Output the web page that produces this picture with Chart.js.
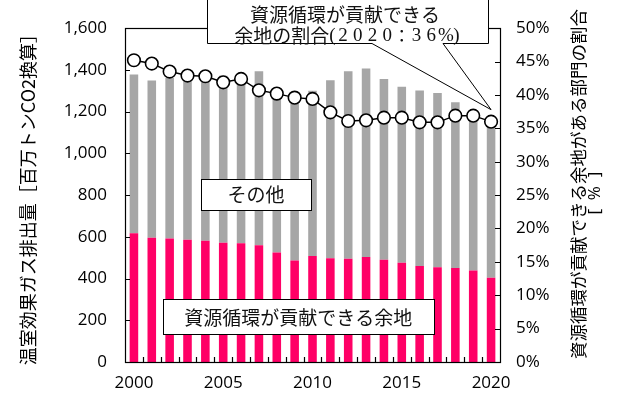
<!DOCTYPE html>
<html>
<head>
<meta charset="utf-8">
<script src="https://cdn.jsdelivr.net/npm/chart.js@4.4.0/dist/chart.umd.min.js"></script>
<style>
  html, body { margin: 0; padding: 0; background: #ffffff; }
  #wrap { width: 633px; height: 399px; }
</style>
</head>
<body>
<div id="wrap"><canvas id="c" width="633" height="399"></canvas></div>
<script>
// 年次
const years = [2000, 2001, 2002, 2003, 2004, 2005, 2006, 2007, 2008, 2009, 2010,
               2011, 2012, 2013, 2014, 2015, 2016, 2017, 2018, 2019, 2020];

// 温室効果ガス排出量 [百万トンCO2換算]：資源循環が貢献できる余地
const contributable = [617, 596, 592, 586, 581, 572, 569, 560, 525, 487, 508,
                       497, 495, 503, 490, 476, 460, 454, 450, 439, 404];

// 温室効果ガス排出量 [百万トンCO2換算]：その他
const others = [761, 753, 770, 776, 777, 800, 769, 834, 780, 753, 792,
                854, 899, 904, 866, 843, 841, 835, 795, 769, 726];

// 資源循環が貢献できる余地がある部門の割合 [%]
const shareRate = [45.2, 44.7, 43.5, 42.9, 42.8, 41.9, 42.4, 40.7, 40.2, 39.6, 39.4,
                   37.4, 36.1, 36.2, 36.6, 36.6, 35.9, 35.9, 36.9, 36.9, 36.0];

// 軸の目盛り
const emissionTicks = [0, 200, 400, 600, 800, 1000, 1200, 1400, 1600];
const rateTicks = [0, 5, 10, 15, 20, 25, 30, 35, 40, 45, 50];
const labeledYears = [2000, 2005, 2010, 2015, 2020];

const CJK = '"Noto Sans CJK JP", "Noto Sans", sans-serif';
const NUM = '"Open Sans", "Liberation Sans", sans-serif';

// 枠線・内向き目盛り・軸タイトル・注記ボックス
const decor = {
  id: 'decor',
  afterDraw(chart) {
    const ctx = chart.ctx;
    const a = chart.chartArea;
    const xs = chart.scales.x, ys = chart.scales.y, ys2 = chart.scales.y2;
    ctx.save();
    ctx.strokeStyle = '#000';
    ctx.lineWidth = 1.2;

    // plot frame
    ctx.strokeRect(Math.round(a.left) + 0.5, Math.round(a.top) + 0.5,
                   Math.round(a.right - a.left), Math.round(a.bottom - a.top));

    // inward tick marks
    ctx.beginPath();
    ys.ticks.forEach((t, i) => {
      const y = Math.round(ys.getPixelForTick(i)) + 0.5;
      ctx.moveTo(a.left, y); ctx.lineTo(a.left + 5, y);
    });
    ys2.ticks.forEach((t, i) => {
      const y = Math.round(ys2.getPixelForTick(i)) + 0.5;
      ctx.moveTo(a.right, y); ctx.lineTo(a.right - 5, y);
    });
    for (let i = 1; i < years.length; i++) {
      const x = Math.round((xs.getPixelForValue(i - 1) + xs.getPixelForValue(i)) / 2) + 0.5;
      ctx.moveTo(x, a.bottom); ctx.lineTo(x, a.bottom - 5);
    }
    ctx.stroke();

    // axis titles (read bottom to top)
    ctx.fillStyle = '#000';
    ctx.textAlign = 'center';
    ctx.textBaseline = 'middle';
    const midY = (a.top + a.bottom) / 2;
    ctx.save();
    ctx.translate(28, midY);
    ctx.rotate(-Math.PI / 2);
    ctx.font = '18px ' + CJK;
    ctx.fillText('温室効果ガス排出量［百万トンCO2換算］', 0, 0);
    ctx.restore();
    ctx.save();
    ctx.translate(578, midY - 11);
    ctx.rotate(-Math.PI / 2);
    ctx.font = '17.5px ' + CJK;
    ctx.fillText('資源循環が貢献できる余地がある部門の割合', 0, 0);
    ctx.font = '17px ' + NUM;
    ctx.fillText('[  %  ]', -9, 17);
    ctx.restore();

    // labelled boxes placed on the data scales
    const box = (cx, cy, w, h, text) => {
      const x0 = Math.round(cx - w / 2) + 0.5, y0 = Math.round(cy - h / 2) + 0.5;
      ctx.fillStyle = '#fff';
      ctx.fillRect(x0, y0, w, h);
      ctx.strokeStyle = '#000';
      ctx.lineWidth = 1;
      ctx.strokeRect(x0, y0, w, h);
      ctx.fillStyle = '#111';
      ctx.font = '19px ' + CJK;
      ctx.fillText(text, cx, cy + 1);
    };
    box(xs.getPixelForValue(6.83), ys.getPixelForValue(805), 110, 31, 'その他');
    box(xs.getPixelForValue(9.2), ys.getPixelForValue(218), 271, 35, '資源循環が貢献できる余地');

    // callout pointing at the 2020 share
    const meta = chart.getDatasetMeta(0);
    const last = meta.data[meta.data.length - 1];
    const tipX = last.x, tipY = last.y - 12;
    const bL = 207.5, bR = 488.5, bT = -2, bB = 43.5;
    ctx.beginPath();
    ctx.moveTo(bL, bT);
    ctx.lineTo(bR, bT);
    ctx.lineTo(bR, bB);
    ctx.lineTo(443, bB);
    ctx.lineTo(tipX, tipY);
    ctx.lineTo(372, bB);
    ctx.lineTo(bL, bB);
    ctx.closePath();
    ctx.fillStyle = '#fff';
    ctx.fill();
    ctx.strokeStyle = '#000';
    ctx.lineWidth = 1;
    ctx.stroke();

    ctx.fillStyle = '#111';
    ctx.font = '19px ' + CJK;
    ctx.textAlign = 'center';
    ctx.fillText('資源循環が貢献できる', 345, 15);

    // second line: sans-serif words then spaced serif figures
    const lead = '余地の割合';
    const cell = 14.7;
    const figs = ['2', '0', '2', '0', '：', '3', '6', '%'];
    ctx.font = '19px ' + CJK;
    const leadW = ctx.measureText(lead).width;
    ctx.font = '19px "Liberation Serif", serif';
    const parW = ctx.measureText('(').width;
    const total = leadW + parW * 2 + cell * figs.length;
    let x = 347 - total / 2;
    const ly = 36;
    ctx.textAlign = 'left';
    ctx.font = '19px ' + CJK;
    ctx.fillText(lead, x, ly);
    x += leadW;
    ctx.font = '19px "Liberation Serif", serif';
    ctx.fillText('(', x, ly);
    x += parW;
    ctx.textAlign = 'center';
    figs.forEach(ch => {
      ctx.font = ch === '：' ? '17px ' + CJK : '19px "Liberation Serif", serif';
      ctx.fillText(ch, x + cell / 2, ly);
      x += cell;
    });
    ctx.textAlign = 'left';
    ctx.font = '19px "Liberation Serif", serif';
    ctx.fillText(')', x, ly);

    ctx.restore();
  }
};

new Chart(document.getElementById('c'), {
  data: {
    labels: years.map(String),
    datasets: [
      {
        type: 'line',
        label: '資源循環が貢献できる余地がある部門の割合',
        data: shareRate,
        yAxisID: 'y2',
        order: 0,
        borderColor: '#000',
        borderWidth: 1.5,
        pointRadius: 6.3,
        pointBackgroundColor: '#fff',
        pointBorderColor: '#000',
        pointBorderWidth: 1.6,
        tension: 0
      },
      {
        type: 'bar',
        label: '資源循環が貢献できる余地',
        data: contributable,
        yAxisID: 'y',
        order: 1,
        backgroundColor: '#FF0066',
        barPercentage: 0.48,
        categoryPercentage: 1.0
      },
      {
        type: 'bar',
        label: 'その他',
        data: others,
        yAxisID: 'y',
        order: 2,
        backgroundColor: '#A6A6A6',
        barPercentage: 0.48,
        categoryPercentage: 1.0
      }
    ]
  },
  options: {
    responsive: false,
    animation: false,
    devicePixelRatio: 1,
    layout: { padding: { top: 28, left: 0, right: 0, bottom: 0 } },
    plugins: { legend: { display: false }, tooltip: { enabled: false } },
    scales: {
      x: {
        stacked: true,
        offset: true,
        grid: { display: false, drawTicks: false },
        border: { display: false },
        ticks: {
          autoSkip: false,
          maxRotation: 0,
          padding: 11,
          color: '#000',
          font: { family: NUM, size: 17 },
          callback: (v, i) => labeledYears.includes(years[i]) ? String(years[i]) : ''
        },
        afterFit: s => { s.height = 37; }
      },
      y: {
        position: 'left',
        stacked: true,
        min: emissionTicks[0],
        max: emissionTicks[emissionTicks.length - 1],
        afterBuildTicks: s => { s.ticks = emissionTicks.map(v => ({ value: v })); },
        grid: { display: false, drawTicks: false },
        border: { display: false },
        ticks: {
          padding: 18,
          color: '#000',
          font: { family: NUM, size: 17 },
          callback: v => v.toLocaleString('en-US')
        },
        afterFit: s => { s.width = 125; }
      },
      y2: {
        position: 'right',
        min: rateTicks[0],
        max: rateTicks[rateTicks.length - 1],
        afterBuildTicks: s => { s.ticks = rateTicks.map(v => ({ value: v })); },
        grid: { display: false, drawTicks: false },
        border: { display: false },
        ticks: {
          padding: 16,
          color: '#000',
          font: { family: NUM, size: 17 },
          callback: v => v + '%'
        },
        afterFit: s => { s.width = 133; }
      }
    }
  },
  plugins: [decor]
});
</script>
</body>
</html>
